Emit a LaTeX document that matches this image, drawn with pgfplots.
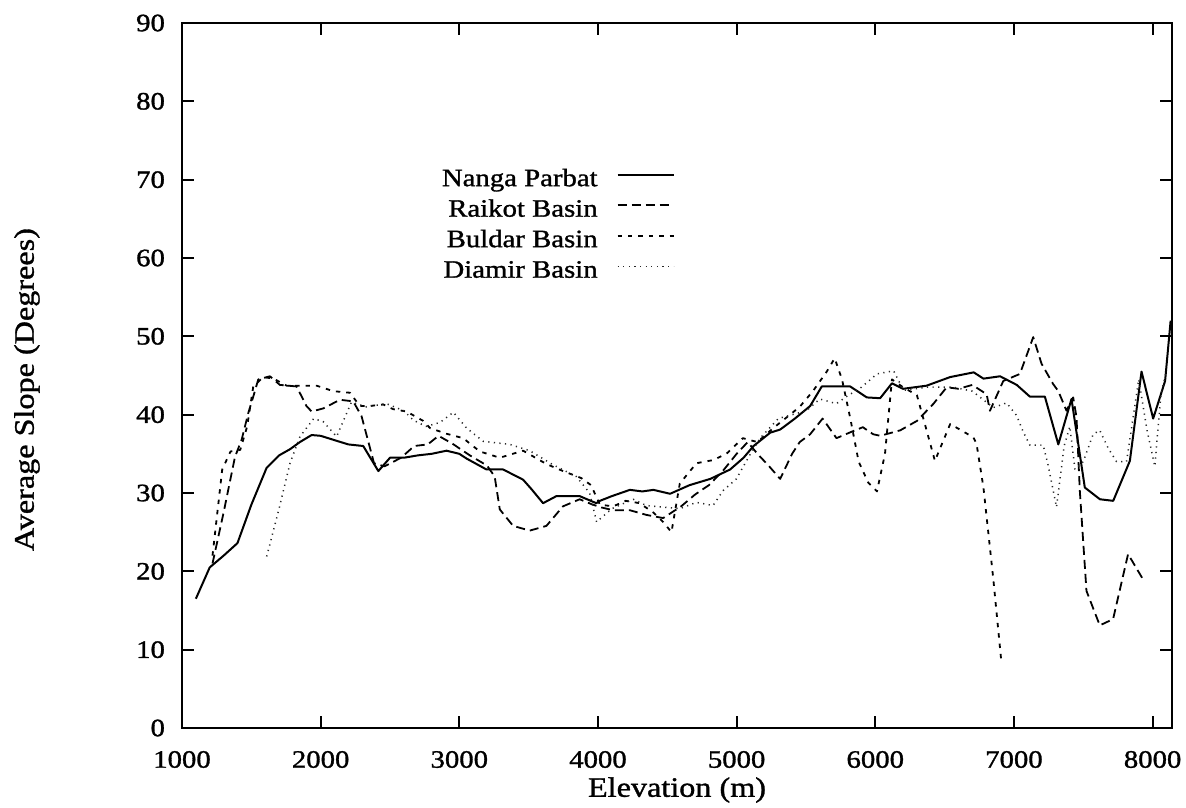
\documentclass[border=0pt]{standalone}
\usepackage{fontspec}
\setmainfont{Liberation Serif}[FakeStretch=1.15,FakeBold=1.2]
\usepackage{pgfplots}
\pgfplotsset{compat=1.18}
\begin{document}
\begin{tikzpicture}
\useasboundingbox (-91pt,-39.5pt) rectangle (502pt,364pt);
\begin{axis}[
  at={(0pt,0pt)}, anchor=south west,
  width=495pt, height=352.5pt, scale only axis,
  xmin=1000, xmax=8140, ymin=0, ymax=90,
  xtick={1000,2000,...,8000}, ytick={0,10,...,90},
  tick align=inside, tick pos=both,
  major tick length=6pt,
  axis line style={line width=1.3pt},
  every tick/.style={black, line width=1pt},
  /pgf/number format/assume math mode=true,
  /pgf/number format/set thousands separator={},
  tick label style={font=\fontsize{12.5}{14}\selectfont},
  xticklabel style={yshift=-8pt},
  yticklabel style={xshift=-5pt},
  xlabel={Elevation (m)}, ylabel={Average Slope (Degrees)},
  label style={font=\fontsize{14}{16}\selectfont},
  xlabel style={at={(axis description cs:0.5,-0.088)}, anchor=center},
  ylabel style={at={(axis description cs:-0.1566,0.48)}, anchor=center},
  legend style={draw=none, fill=none, at={(axis description cs:0.498,0.7975)}, anchor=north east,
    inner sep=0pt, column sep=9.5pt, row sep=2pt,
    nodes={inner sep=0pt, text height=10pt, text depth=3.25pt, font=\fontsize{12.5}{14}\selectfont}},
  legend cell align=right,
  legend plot pos=right,
  legend image code/.code={\draw[#1] (0pt,0.5ex) -- (28pt,0.5ex);},
]
\addplot[black, line width=1pt, line join=round] coordinates {
(1100,16.5)(1200,20.5)(1300,22)(1400,23.6)(1500,28.5)(1610,33.2)(1700,34.8)(1780,35.6)(1850,36.5)(1935,37.4)(2000,37.3)(2090,36.8)(2200,36.2)(2307,36)(2416,32.8)(2500,34.5)(2600,34.5)(2700,34.8)(2800,35)(2908,35.4)(3000,35)(3052,34.4)(3196,33)(3316,33)(3460,31.7)(3520,30.5)(3604,28.7)(3700,29.6)(3868,29.6)(3988,28.7)(4014,29)(4100,29.6)(4230,30.4)(4320,30.2)(4400,30.4)(4520,29.9)(4660,31)(4810,31.8)(4953,33)(5050,34.5)(5122,36)(5242,37.7)(5314,38.1)(5420,39.5)(5530,41.1)(5614,43.6)(5819,43.6)(5939,42.2)(6035,42.1)(6120,44)(6200,43.3)(6370,43.7)(6540,44.8)(6710,45.4)(6780,44.6)(6900,44.9)(7020,43.8)(7115,42.3)(7223,42.3)(7320,36.2)(7415,42)(7511,30.7)(7620,29.2)(7716,29)(7836,34.1)(7920,45.5)(8004,39.5)(8090,44.3)(8130,52)
};
\addlegendentry{Nanga Parbat}
\addplot[black, line width=0.9pt, dash pattern=on 4.5pt off 2.5pt, line join=round] coordinates {
(1220,21)(1300,27.5)(1382,34.6)(1430,36.8)(1478,40.2)(1514,42.3)(1550,44.5)(1634,44.9)(1706,43.8)(1826,43.6)(1898,41.1)(1935,40.4)(2019,40.8)(2139,41.9)(2235,41.7)(2295,39.8)(2385,33.8)(2460,33.4)(2580,34.5)(2675,36)(2772,36.2)(2850,37.3)(2950,36.3)(3076,34.8)(3200,33.5)(3255,32.1)(3292,27.9)(3388,25.8)(3508,25.2)(3628,25.8)(3748,28.3)(3868,29.2)(3950,28.6)(4014,28.2)(4110,27.8)(4230,27.8)(4350,27.2)(4470,26.8)(4600,28.3)(4700,29.8)(4800,31)(4900,32.8)(5000,35)(5080,36.5)(5150,35)(5230,33.5)(5314,31.8)(5400,35)(5455,36.5)(5530,37.5)(5620,39.5)(5720,37)(5840,37.9)(5910,38.4)(5985,37.5)(6035,37.3)(6180,38)(6300,39.2)(6420,41.4)(6515,43.5)(6600,43.3)(6700,43.8)(6803,42.6)(6827,40.5)(6923,44.3)(7043,45.2)(7139,49.9)(7199,46.5)(7283,43.9)(7320,43)(7379,40.5)(7427,42.2)(7451,39.7)(7475,30.3)(7523,17.5)(7619,13.1)(7715,13.9)(7823,22.2)(7930,19)
};
\addlegendentry{Raikot Basin}
\addplot[black, line width=0.9pt, dash pattern=on 2.2pt off 3pt, line join=round] coordinates {
(1220,22)(1290,33)(1350,35.3)(1420,35.5)(1470,38.5)(1514,43.6)(1586,44.8)(1660,44.6)(1755,43.7)(1971,43.7)(2091,43)(2211,42.8)(2283,41.1)(2350,41.1)(2452,41.3)(2523,40.7)(2620,40.4)(2740,39.2)(2788,38.3)(2900,37.6)(3028,37)(3148,35.3)(3292,34.5)(3460,35.4)(3628,33.7)(3748,32.8)(3880,31.9)(3950,31)(4014,28.5)(4110,28.3)(4200,29)(4300,28.7)(4400,27.5)(4470,26.3)(4530,25)(4590,31.2)(4710,33.8)(4830,34.2)(4926,35)(5045,37)(5150,36.5)(5265,38.3)(5350,39.5)(5455,41)(5550,43)(5650,45.5)(5707,47.2)(5760,44.5)(5820,39.5)(5880,34)(5950,31.3)(6012,30.2)(6070,35)(6120,44.5)(6200,43.5)(6300,42.5)(6370,38)(6430,34.1)(6540,38.8)(6620,38)(6707,37.1)(6730,36.3)(6780,30.7)(6850,19.2)(6910,8.3)
};
\addlegendentry{Buldar Basin}
\addplot[black!85, line width=0.75pt, dash pattern=on 0.6pt off 2.2pt, line join=round] coordinates {
(1611,21.9)(1700,28)(1779,33.8)(1851,37.2)(1950,39.5)(2019,39.1)(2115,37.2)(2222,41.6)(2330,41)(2475,41.4)(2600,40.5)(2668,39.3)(2760,38.5)(2860,39)(2957,40.3)(3052,38.3)(3172,36.6)(3364,36.2)(3508,35.4)(3676,33.6)(3844,32.1)(3940,30)(3990,26.3)(4100,28)(4254,29.2)(4350,28.4)(4590,28)(4710,28.8)(4830,28.4)(4902,30.3)(4998,31.8)(5100,35)(5170,37)(5300,39.5)(5400,40)(5503,40.5)(5600,42)(5719,41.4)(5791,42.3)(5900,43.5)(6012,45.2)(6132,45.6)(6204,43.1)(6372,43.5)(6563,43.5)(6700,43)(6851,40.9)(6947,41.5)(7019,39.9)(7067,37.8)(7115,36.1)(7211,36.1)(7247,33.5)(7307,28.2)(7362,36)(7403,38.5)(7440,33)(7500,34)(7571,37.5)(7619,38)(7680,35.7)(7740,34)(7812,34)(7900,44.5)(7960,38)(8016,33.4)(8060,42.6)(8100,45.6)
};
\addlegendentry{Diamir Basin}
\end{axis}
\end{tikzpicture}
\end{document}
